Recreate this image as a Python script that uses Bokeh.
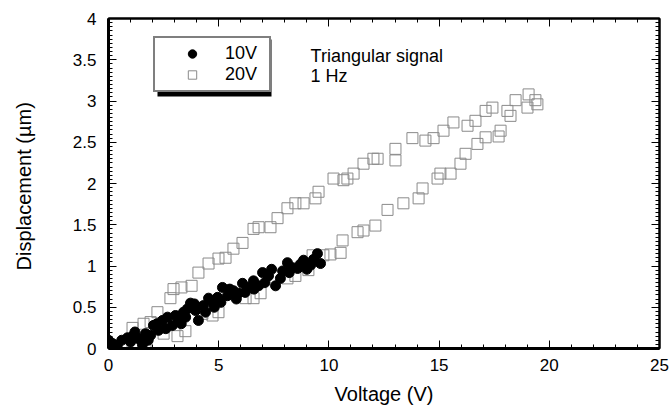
from bokeh.plotting import figure
from bokeh.models import (LinearAxis, SingleIntervalTicker, CustomJSTickFormatter, Range1d,
                          Legend, LegendItem, BoxAnnotation, Label, ColumnDataSource)
from bokeh.embed import file_html
from bokeh.resources import INLINE

# ---------------- data ----------------
v10_voltage = [0.0, 0.18, 0.40, 0.60, 0.86, 1.00, 1.13, 1.20, 1.36, 1.54, 1.68, 1.80, 1.91,
               2.04, 2.20, 2.27, 2.45, 2.60, 2.68, 2.90, 3.04, 3.18, 3.30, 3.40, 3.50, 3.58,
               3.72, 3.90, 3.95, 4.08, 4.31, 4.40, 4.54, 4.72, 4.80, 4.95, 5.10, 5.17, 5.40,
               5.50, 5.67, 5.80, 5.90, 6.08, 6.20, 6.31, 6.58, 6.60, 6.81, 6.99, 7.10, 7.26,
               7.40, 7.58, 7.80, 7.90, 8.12, 8.20, 8.35, 8.58, 8.70, 8.85, 9.00, 9.17, 9.30,
               9.48, 9.62]
v10_disp = [0.10, 0.06, 0.04, 0.10, 0.13, 0.08, 0.16, 0.20, 0.12, 0.05, 0.18, 0.10, 0.16,
            0.28, 0.30, 0.22, 0.34, 0.24, 0.38, 0.28, 0.40, 0.34, 0.30, 0.44, 0.38, 0.48,
            0.55, 0.54, 0.46, 0.34, 0.52, 0.44, 0.61, 0.56, 0.50, 0.62, 0.56, 0.74, 0.64,
            0.72, 0.70, 0.60, 0.67, 0.79, 0.68, 0.74, 0.82, 0.72, 0.76, 0.92, 0.80, 0.88,
            0.96, 0.76, 0.85, 0.94, 1.04, 0.92, 0.98, 0.97, 1.02, 1.07, 0.96, 1.01, 1.08,
            1.15, 1.03]

v20_voltage = [0.0, 1.09, 1.59, 1.91, 2.22, 2.81, 2.95, 3.31, 3.77, 4.08, 4.54, 4.99, 5.31,
               5.67, 6.08, 6.58, 6.81, 7.35, 7.67, 8.12, 8.48, 8.85, 9.39, 9.53, 10.21, 10.66,
               10.84, 11.12, 11.57, 12.02, 12.21, 13.02, 13.02, 13.79, 14.38, 14.75, 15.20,
               15.65, 16.29, 16.65, 17.11, 17.42, 18.10, 18.24, 18.47, 19.01, 19.06, 19.37,
               19.46,
               17.79, 17.70, 17.11, 16.74, 16.20, 15.97, 15.52, 15.06, 14.93, 14.25, 14.07,
               13.38, 12.66, 12.11, 11.57, 11.30, 10.62, 10.53, 10.07, 9.75, 9.26, 9.07, 8.48,
               8.12, 6.90, 6.58, 6.22, 4.99, 4.72, 4.26, 3.49, 3.13, 2.50, 1.68, 1.09]
v20_disp = [0.0, 0.25, 0.30, 0.32, 0.44, 0.61, 0.72, 0.74, 0.76, 0.92, 1.03, 1.09, 1.10,
            1.21, 1.28, 1.45, 1.47, 1.47, 1.58, 1.70, 1.76, 1.76, 1.82, 1.90, 2.06, 2.04,
            2.06, 2.12, 2.24, 2.30, 2.30, 2.42, 2.28, 2.55, 2.52, 2.55, 2.64, 2.74, 2.70,
            2.76, 2.88, 2.92, 2.88, 2.82, 3.01, 2.92, 3.08, 3.01, 2.96,
            2.64, 2.57, 2.56, 2.48, 2.36, 2.24, 2.12, 2.12, 2.06, 1.94, 1.82, 1.76, 1.68,
            1.49, 1.43, 1.41, 1.31, 1.16, 1.14, 1.13, 1.13, 0.95, 0.88, 0.85, 0.67, 0.61,
            0.61, 0.44, 0.40, 0.42, 0.21, 0.15, 0.18, 0.0, 0.0]

series_labels = ["10V", "20V"]
note_lines = ["Triangular signal", "1 Hz"]
x_title = "Voltage (V)"
y_title = "Displacement  (\u00b5m)"

FONT = "Liberation Sans"

p = figure(width=672, height=410, output_backend="svg", toolbar_location=None,
           x_range=Range1d(0, 25), y_range=Range1d(0, 4),
           min_border_left=108, min_border_right=13, min_border_top=18, min_border_bottom=62,
           x_axis_label=x_title, y_axis_label=y_title)
p.background_fill_color = "white"
p.border_fill_color = "white"
p.outline_line_color = "black"
p.outline_line_width = 2
p.xgrid.visible = False
p.ygrid.visible = False

xt = SingleIntervalTicker(interval=5, num_minor_ticks=5)
yt = SingleIntervalTicker(interval=0.5, num_minor_ticks=10)
fmt = CustomJSTickFormatter(code="return String(Math.round(tick*10)/10)")

for ax in p.xaxis:
    ax.ticker = xt
for ax in p.yaxis:
    ax.ticker = yt
    ax.formatter = fmt

def style_axis(ax):
    ax.axis_line_color = "black"
    ax.major_tick_in = 8
    ax.major_tick_out = 0
    ax.minor_tick_in = 4
    ax.minor_tick_out = 0
    ax.major_tick_line_color = "black"
    ax.minor_tick_line_color = "black"
    ax.major_label_text_font = FONT
    ax.major_label_text_color = "black"
    ax.axis_label_text_font = FONT
    ax.axis_label_text_font_style = "normal"
    ax.axis_label_text_color = "black"

for ax in p.xaxis:
    style_axis(ax)
    ax.axis_line_width = 3
    ax.major_label_text_font_size = "17px"
    ax.major_label_standoff = 10
    ax.axis_label_text_font_size = "20px"
    ax.axis_label_standoff = 9
for ax in p.yaxis:
    style_axis(ax)
    ax.axis_line_width = 3
    ax.major_label_text_font_size = "17px"
    ax.major_label_standoff = 12
    ax.axis_label_text_font_size = "20px"
    ax.axis_label_standoff = 35

blank = CustomJSTickFormatter(code="return ''")
top = LinearAxis(ticker=xt, formatter=blank)
right = LinearAxis(ticker=yt, formatter=blank)
for ax in (top, right):
    style_axis(ax)
    ax.axis_line_width = 2
    ax.major_label_text_font_size = "0px"
    ax.major_label_standoff = 0
p.add_layout(top, "above")
p.add_layout(right, "right")

src20 = ColumnDataSource(dict(x=v20_voltage, y=v20_disp))
src10 = ColumnDataSource(dict(x=v10_voltage, y=v10_disp))
r20 = p.scatter("x", "y", source=src20, marker="square", size=11, fill_color=None,
                line_color="#8a8a8a", line_width=1)
r10 = p.scatter("x", "y", source=src10, marker="circle", size=10, fill_color="black",
                line_color="black")

# legend shadow
shadow = BoxAnnotation(left=2.223, right=7.396, top=3.745, bottom=3.055,
                       fill_color="black", fill_alpha=1, line_color=None)
p.add_layout(shadow)

legend = Legend(items=[LegendItem(label=series_labels[0], renderers=[r10]),
                       LegendItem(label=series_labels[1], renderers=[r20])],
                location=(45, 256), margin=0, padding=5, spacing=0,
                glyph_width=64, glyph_height=21, label_height=21, label_width=39,
                label_standoff=1,
                border_line_color="black", border_line_width=2,
                background_fill_color="white", background_fill_alpha=1,
                label_text_font=FONT, label_text_font_size="18px", label_text_color="black")
p.add_layout(legend, "center")

for txt, yy in zip(note_lines, [3.55, 3.30]):
    p.add_layout(Label(x=9.17, y=yy, text=txt, text_font=FONT, text_font_size="18px",
                       text_color="black", text_baseline="middle", text_align="left"))

open("out.html", "w").write(file_html(p, INLINE))
